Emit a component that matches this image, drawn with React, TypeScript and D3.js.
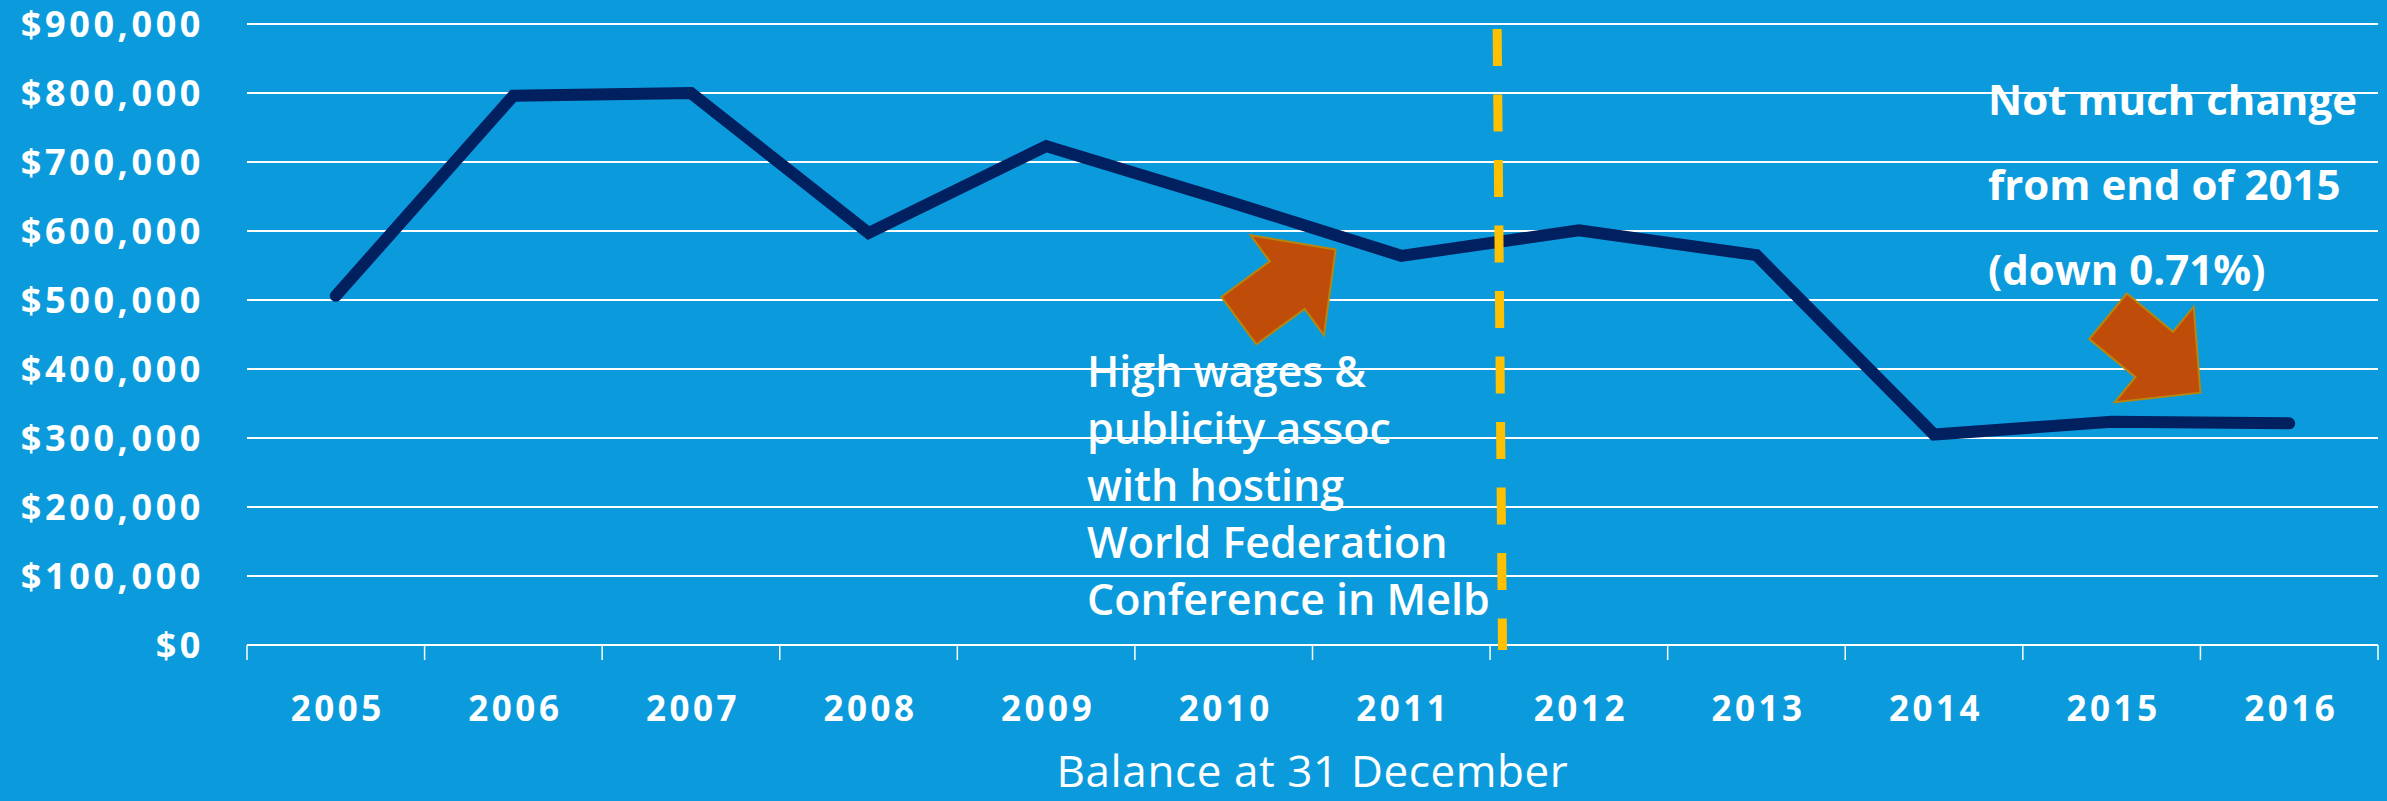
import React, { useEffect } from "react";
import * as d3 from "d3";

const years = ["2005", "2006", "2007", "2008", "2009", "2010", "2011", "2012", "2013", "2014", "2015", "2016"];
const balances = [506000, 796000, 800000, 597000, 723000, 645000, 564000, 601000, 565000, 305000, 323500, 321200];
const yTicks = [0, 100000, 200000, 300000, 400000, 500000, 600000, 700000, 800000, 900000];
const xTitle = "Balance at 31 December";
const note1 = ["High wages &", "publicity assoc", "with hosting", "World Federation", "Conference in Melb"];
const note2 = ["Not much change", "from end of 2015", "(down 0.71%)"];

const W = 2387;
const H = 801;
const M = { left: 247, right: 2378, top: 24, bottom: 645 };
const BG = "#0B9BDD";
const LINE = "#002060";
const GOLD = "#FFC000";
const ARROW_FILL = "#C04C0A";
const ARROW_STROKE = "#B8860B";

const fmt = (v: number) => "$" + d3.format(",")(v);

function arrowPath(tx: number, ty: number, angleDeg: number) {
  const L = 120, HL = 60, HW = 62, SW = 29.5;
  const pts: [number, number][] = [
    [0, 0],
    [-HL, -HW],
    [-HL, -SW],
    [-L, -SW],
    [-L, SW],
    [-HL, SW],
    [-HL, HW],
  ];
  const a = (angleDeg * Math.PI) / 180;
  const c = Math.cos(a), s = Math.sin(a);
  return (
    "M" +
    pts.map(([x, y]) => `${(tx + x * c - y * s).toFixed(1)},${(ty + x * s + y * c).toFixed(1)}`).join("L") +
    "Z"
  );
}

export default function App() {
  useEffect(() => {
    document.body.style.margin = "0";
    document.body.style.background = BG;
  }, []);

  const x = d3.scaleBand<string>().domain(years).range([M.left, M.right]).paddingInner(0).paddingOuter(0);
  const xi = d3.scaleLinear().domain([0, years.length]).range([M.left, M.right]);
  const y = d3.scaleLinear().domain([0, 900000]).range([M.bottom, M.top]);
  const bw = x.bandwidth();

  const line = d3
    .line<number>()
    .x((_, i) => (x(years[i]) as number) + bw / 2)
    .y((d) => y(d));

  const tickXs = d3.range(years.length + 1).map((i) => xi(i));

  const font = "'Open Sans', 'Noto Sans', sans-serif";

  return (
    <svg width={W} height={H} style={{ display: "block" }}>
      <rect x={0} y={0} width={W} height={H} fill={BG} />
      {yTicks.map((t) => (
        <line key={t} x1={M.left} x2={M.right} y1={y(t)} y2={y(t)} stroke="#fff" strokeWidth={2} />
      ))}
      {tickXs.map((tx, i) => (
        <line key={i} x1={tx} x2={tx} y1={y(0)} y2={y(0) + 15} stroke="#fff" strokeWidth={1.5} />
      ))}
      {yTicks.map((t) => (
        <text
          key={"l" + t}
          x={204}
          y={y(t)}
          dy="0.36em"
          textAnchor="end"
          fill="#fff"
          fontFamily={font}
          fontWeight={700}
          fontSize={36}
          letterSpacing={3.6}
        >
          {fmt(t)}
        </text>
      ))}
      {years.map((yr) => (
        <text
          key={"y" + yr}
          x={(x(yr) as number) + bw / 2 + 2}
          y={721}
          textAnchor="middle"
          fill="#fff"
          fontFamily={font}
          fontWeight={700}
          fontSize={35}
          letterSpacing={3.5}
        >
          {yr}
        </text>
      ))}
      <text
        x={(M.left + M.right) / 2}
        y={787}
        textAnchor="middle"
        fill="#fff"
        fontFamily={font}
        fontWeight={400}
        fontSize={44}
        letterSpacing={0.6}
      >
        {xTitle}
      </text>

      <path
        d={line(balances) as string}
        fill="none"
        stroke={LINE}
        strokeWidth={12}
        strokeLinejoin="miter"
        strokeLinecap="round"
      />

      <line
        x1={xi(7.04)}
        x2={xi(7.07)}
        y1={29}
        y2={650}
        stroke={GOLD}
        strokeWidth={9}
        strokeDasharray="37 28.5"
      />

      <path d={arrowPath(xi(6.13), y(573000), -36.3)} fill={ARROW_FILL} stroke={ARROW_STROKE} strokeWidth={2} />
      <path d={arrowPath(xi(11.0), y(365600), 39.6)} fill={ARROW_FILL} stroke={ARROW_STROKE} strokeWidth={2} />

      {note1.map((s, i) => (
        <text key={"n1" + i} x={1087} y={386.7 + i * 57.1} fill="#fff" fontFamily={font} fontWeight={600} fontSize={43}>
          {s}
        </text>
      ))}
      {note2.map((s, i) => (
        <text key={"n2" + i} x={1988} y={115 + i * 85} fill="#fff" fontFamily={font} fontWeight={700} fontSize={42}>
          {s}
        </text>
      ))}
    </svg>
  );
}
